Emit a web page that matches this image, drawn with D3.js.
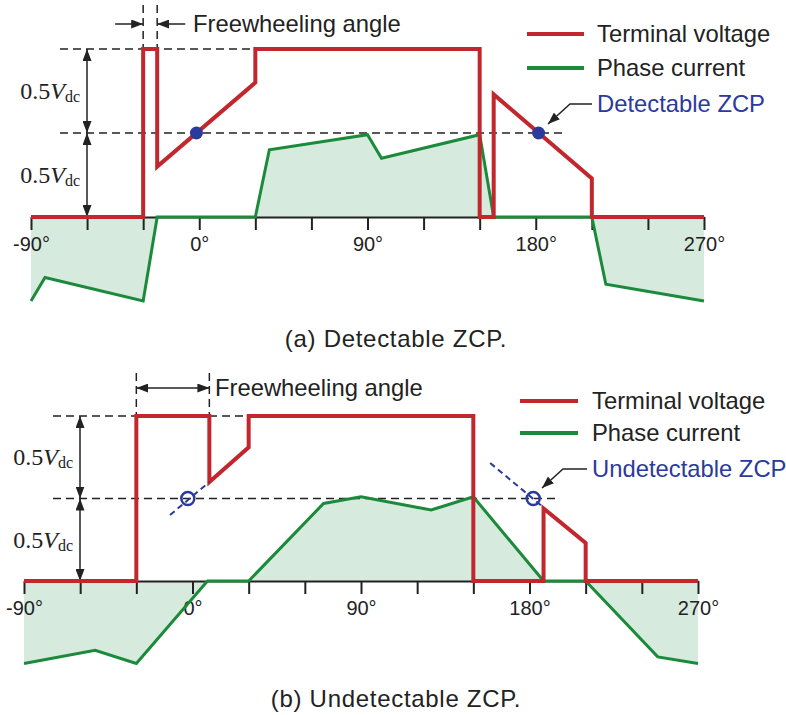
<!DOCTYPE html>
<html>
<head>
<meta charset="utf-8">
<script src="https://cdn.jsdelivr.net/npm/d3@7"></script>
<style>
body { margin: 0; background: #fff; }
</style>
</head>
<body>
<div id="chart"></div>
<script>
// ---------- data (angles in degrees, levels in units of Vdc) ----------
const tickAngles = [-90, -60, -30, 0, 30, 60, 90, 120, 150, 180, 210, 240, 270]
const tickLabels = [-90, 0, 90, 180, 270]
const legendNames = ["Terminal voltage", "Phase current"]

// (a) detectable ZCP
const voltageA = [[-90, 0], [-30, 0], [-30, 1], [-22.5, 1], [-22.5, 0.30], [30, 0.80], [30, 1],
                  [150, 1], [150, 0], [157.5, 0], [157.5, 0.73], [210, 0.23], [210, 0], [270, 0]]
const currentA = [[-90, -0.5], [-82.5, -0.36], [-30, -0.5], [-22.5, 0], [30, 0], [37.5, 0.40],
                  [90, 0.49], [97.5, 0.35], [150, 0.49], [157.5, 0], [210, 0], [217.5, -0.40], [270, -0.5]]
const freewheelA = [-30, -22.5]
const zcpA = [-1.5, 181.5]

// (b) undetectable ZCP
const voltageB = [[-90, 0], [-30, 0], [-30, 1], [9, 1], [9, 0.60], [30, 0.81], [30, 1],
                  [150, 1], [150, 0], [187.5, 0], [187.5, 0.44], [210, 0.23], [210, 0], [270, 0]]
const currentB = [[-90, -0.5], [-52, -0.42], [-30, -0.5], [8, 0], [30, 0], [70, 0.47],
                  [90, 0.51], [127.5, 0.43], [150, 0.51], [187.5, 0], [210, 0], [248.5, -0.46], [270, -0.5]]
const freewheelB = [-30, 9]
const zcpB = [-2.5, 182]
const zcpExtB = [[[-12, 0.40], [9, 0.60]], [[159, 0.715], [186.5, 0.455]]]

// ---------- style ----------
const width = 786
const height = 715
const red = "#c1272d", green = "#1b8a3a", blue = "#2b3a9b", fillGreen = "#d6ebdd", ink = "#222"
const sans = "'Liberation Sans', Arial, sans-serif"
const serif = "'Liberation Serif', 'Times New Roman', serif"

const svg = d3.select("#chart").append("svg").attr("width", width).attr("height", height)

svg.append("defs").append("marker")
    .attr("id", "arrow")
    .attr("viewBox", "0 0 10 10")
    .attr("refX", 10).attr("refY", 5)
    .attr("markerWidth", 12).attr("markerHeight", 9)
    .attr("markerUnits", "userSpaceOnUse")
    .attr("preserveAspectRatio", "none")
    .attr("orient", "auto-start-reverse")
    .append("path").attr("d", "M0,0L10,5L0,10z").attr("fill", ink)

function dashed(g, x1, y1, x2, y2) {
    g.append("line").attr("x1", x1).attr("y1", y1).attr("x2", x2).attr("y2", y2)
        .attr("stroke", ink).attr("stroke-width", 1.5).attr("stroke-dasharray", "8,5")
}

function arrowLine(g, x1, y1, x2, y2, both) {
    const l = g.append("line").attr("x1", x1).attr("y1", y1).attr("x2", x2).attr("y2", y2)
        .attr("stroke", ink).attr("stroke-width", 1.5)
        .attr("marker-end", "url(#arrow)")
    if (both) l.attr("marker-start", "url(#arrow)")
}

function vdcLabel(g, xr, yb) {
    const t = g.append("text").attr("x", xr).attr("y", yb).attr("text-anchor", "end")
        .attr("font-family", serif).attr("font-size", 24).attr("fill", ink)
    t.append("tspan").text("0.5")
    t.append("tspan").attr("font-style", "italic").text("V")
    t.append("tspan").attr("font-size", 16).attr("dy", 3).text("dc")
}

function drawPanel(p) {
    const x = d3.scaleLinear().domain([-90, 270]).range([p.left, p.right])
    const y = d3.scaleLinear().domain([0, 1]).range([p.base, p.top])
    const g = svg.append("g")

    // shaded current area
    const area = d3.area().x(d => x(d[0])).y0(y(0)).y1(d => y(d[1]))
    g.append("path").datum(p.current).attr("d", area).attr("fill", fillGreen)

    // angle axis
    const axis = d3.axisBottom(x).tickValues(tickAngles).tickSize(13).tickSizeOuter(0).tickPadding(7)
        .tickFormat(d => tickLabels.includes(d) ? d + "°" : "")
    const ag = g.append("g").attr("transform", `translate(0,${y(0)})`).call(axis)
        .attr("font-family", sans).attr("font-size", 20)
    ag.select(".domain").attr("stroke", ink).attr("stroke-width", 2)
    ag.selectAll(".tick line").attr("stroke", ink).attr("stroke-width", 2)
    ag.selectAll(".tick text").attr("fill", ink)

    // reference levels
    dashed(g, p.dashLeft, y(1), x(30), y(1))
    dashed(g, p.dashLeft, y(0.5), p.midRight, y(0.5))
    arrowLine(g, p.arrowX, y(1), p.arrowX, y(0.5), true)
    arrowLine(g, p.arrowX, y(0.5), p.arrowX, y(0), true)
    vdcLabel(g, p.arrowX - 7, (y(1) + y(0.5)) / 2 + 8)
    vdcLabel(g, p.arrowX - 7, (y(0.5) + y(0)) / 2 + 8)

    // freewheeling angle
    const f0 = x(p.freewheel[0]), f1 = x(p.freewheel[1])
    dashed(g, f0, p.fwTop, f0, y(1))
    dashed(g, f1, p.fwTop, f1, y(1))
    if (p.fwInside) {
        arrowLine(g, f0, p.fwY, f1, p.fwY, true)
    } else {
        arrowLine(g, f0 - 28, p.fwY, f0, p.fwY, false)
        arrowLine(g, f1 + 28, p.fwY, f1, p.fwY, false)
    }
    g.append("text").attr("x", p.fwTextX).attr("y", p.fwY).attr("dy", "0.35em")
        .attr("font-family", sans).attr("font-size", 23.8).attr("fill", ink)
        .text("Freewheeling angle")

    // curves
    const line = d3.line().x(d => x(d[0])).y(d => y(d[1]))
    g.append("path").datum(p.current).attr("d", line).attr("fill", "none")
        .attr("stroke", green).attr("stroke-width", 3).attr("stroke-linejoin", "miter")
    g.append("path").datum(p.voltage).attr("d", line).attr("fill", "none")
        .attr("stroke", red).attr("stroke-width", 4).attr("stroke-linejoin", "miter")

    // zero-crossing points
    if (p.zcpExt) {
        p.zcpExt.forEach(seg => {
            g.append("path").datum(seg).attr("d", line).attr("fill", "none")
                .attr("stroke", blue).attr("stroke-width", 2).attr("stroke-dasharray", "6,4")
        })
        g.selectAll(".zcp").data(p.zcp).join("circle").attr("class", "zcp")
            .attr("cx", d => x(d)).attr("cy", y(0.5)).attr("r", 6.5)
            .attr("fill", "none").attr("stroke", blue).attr("stroke-width", 2.5)
    } else {
        g.selectAll(".zcp").data(p.zcp).join("circle").attr("class", "zcp")
            .attr("cx", d => x(d)).attr("cy", y(0.5)).attr("r", 6.5).attr("fill", blue)
    }

    // legend
    const lg = g.append("g")
    const colors = [red, green]
    legendNames.forEach((name, i) => {
        const ly = p.legendY[i]
        lg.append("line").attr("x1", p.legendX[0]).attr("x2", p.legendX[1]).attr("y1", ly).attr("y2", ly)
            .attr("stroke", colors[i]).attr("stroke-width", 4)
        lg.append("text").attr("x", p.legendX[2]).attr("y", ly).attr("dy", "0.35em")
            .attr("font-family", sans).attr("font-size", 23.8).attr("fill", ink).text(name)
    })
    lg.append("text").attr("x", p.legendX[2]).attr("y", p.legendY[2]).attr("dy", "0.35em")
        .attr("font-family", sans).attr("font-size", 23.8).attr("fill", blue).text(p.zcpName)
    lg.append("path").attr("d", d3.line()(p.zcpArrow)).attr("fill", "none")
        .attr("stroke", ink).attr("stroke-width", 1.5).attr("marker-end", "url(#arrow)")

    // caption
    g.append("text").attr("x", 396).attr("y", p.captionY).attr("text-anchor", "middle")
        .attr("font-family", sans).attr("font-size", 24).attr("letter-spacing", 0.7).attr("fill", ink)
        .text(p.caption)
}

drawPanel({
    voltage: voltageA, current: currentA, freewheel: freewheelA, zcp: zcpA, zcpExt: null,
    left: 31, right: 704, top: 49, base: 217,
    dashLeft: 60, midRight: 565, arrowX: 87,
    fwTop: 5, fwY: 24, fwTextX: 193, fwInside: false,
    legendX: [527, 584, 597], legendY: [34, 68, 104],
    zcpName: "Detectable ZCP", zcpArrow: [[592, 104], [570, 104], [548, 124]],
    caption: "(a) Detectable ZCP.", captionY: 347
})

drawPanel({
    voltage: voltageB, current: currentB, freewheel: freewheelB, zcp: zcpB, zcpExt: zcpExtB,
    left: 24, right: 698, top: 416, base: 581,
    dashLeft: 53, midRight: 559, arrowX: 80,
    fwTop: 373, fwY: 388, fwTextX: 215, fwInside: true,
    legendX: [520, 578, 592], legendY: [401, 433, 469],
    zcpName: "Undetectable ZCP", zcpArrow: [[587, 469], [563, 469], [542, 488]],
    caption: "(b) Undetectable ZCP.", captionY: 707
})
</script>
</body>
</html>
